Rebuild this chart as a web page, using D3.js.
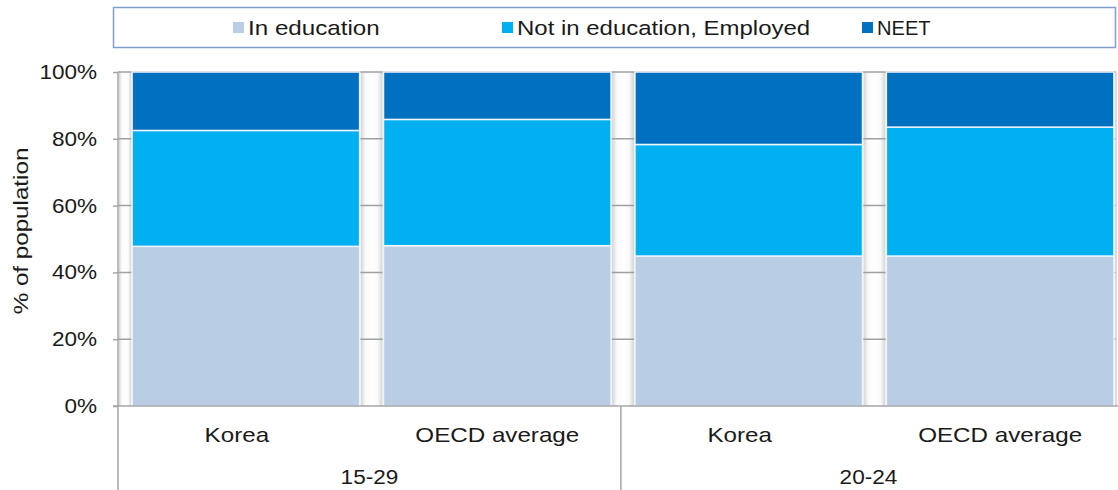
<!DOCTYPE html>
<html>
<head>
<meta charset="utf-8">
<script src="https://cdn.jsdelivr.net/npm/d3@7"></script>
<style>
  body { margin: 0; background: #fff; }
  svg text { font-family: "Liberation Sans", Arial, sans-serif; fill: #1a1a1a; }
</style>
</head>
<body>
<svg id="chart" width="1118" height="490"></svg>
<script>
// data
var groups = ["15-29", "20-24"];
var countries = ["Korea", "OECD average", "Korea", "OECD average"];
var groupOf = [0, 0, 1, 1];
var seriesNames = ["In education", "Not in education, Employed", "NEET"];
var inEducation = [47.8, 48.0, 44.9, 44.9];
var employed = [34.7, 37.8, 33.4, 38.6];
var neet = [17.5, 14.2, 21.7, 16.5];
var yTicks = [0, 20, 40, 60, 80, 100];

var colors = ["#b9cde5", "#00b0f0", "#0070c0"];
var axisGray = "#a6a6a6";
var fontSize = 20.5;
var stretchX = 1.18;   // the original text renders wider than Liberation Sans

var svg = d3.select("#chart");
var plotLeft = 118, plotRight = 1116, plotTop = 72, plotBottom = 406;

// place a text at x,y, widened along its own baseline
function placeText(sel, fx, fy, extra, k) {
    sel.attr("transform", function(d, i) {
        return "translate(" + fx(d, i) + "," + fy(d, i) + ")" + (extra || "") + " scale(" + (k || stretchX) + ",1)";
    });
}

var idx = d3.range(countries.length);
var x = d3.scaleBand()
    .domain(idx)
    .range([plotLeft, 1128])
    .paddingInner(0.095)
    .paddingOuter(0.056);
var y = d3.scaleLinear().domain([0, 100]).range([plotBottom, plotTop]);

// gradient for the wall pieces visible between bars
var defs = svg.append("defs");
var grad = defs.append("linearGradient").attr("id", "wall")
    .attr("x1", "0%").attr("x2", "100%").attr("y1", "0%").attr("y2", "0%");
grad.append("stop").attr("offset", "0%").attr("stop-color", "#d4d4d4");
grad.append("stop").attr("offset", "22%").attr("stop-color", "#fafafa");
grad.append("stop").attr("offset", "50%").attr("stop-color", "#ffffff");
grad.append("stop").attr("offset", "78%").attr("stop-color", "#fafafa");
grad.append("stop").attr("offset", "100%").attr("stop-color", "#d4d4d4");

// wall strips: before first bar and in the gaps
var strips = [];
var prevEnd = plotLeft;
idx.forEach(function(i) {
    strips.push([prevEnd + 1, x(i) - 1]);
    prevEnd = x(i) + x.bandwidth();
});
svg.append("g").selectAll("rect").data(strips).enter().append("rect")
    .attr("x", d => d[0])
    .attr("y", plotTop)
    .attr("width", d => Math.max(0, d[1] - d[0]))
    .attr("height", plotBottom - plotTop)
    .attr("fill", "url(#wall)");

// gridlines (only show in the gaps)
svg.append("g").selectAll("line").data(yTicks.filter(t => t > 0)).enter().append("line")
    .attr("x1", plotLeft).attr("x2", plotRight)
    .attr("y1", d => y(d)).attr("y2", d => y(d))
    .attr("stroke", "#a0a0a0").attr("stroke-width", 1.5);

// stacked bars
var rows = idx.map(i => ({i: i, a: inEducation[i], b: employed[i], c: neet[i]}));
var stack = d3.stack().keys(["a", "b", "c"]);
var layers = stack(rows);
svg.append("g").selectAll("g").data(layers).enter().append("g")
    .attr("fill", (d, k) => colors[k])
    .selectAll("rect").data(d => d).enter().append("rect")
    .attr("x", d => x(d.data.i))
    .attr("width", x.bandwidth())
    .attr("y", d => y(d[1]))
    .attr("height", d => y(d[0]) - y(d[1]))
    .attr("stroke", "#eef4fb")
    .attr("stroke-width", 1.5);

// right edge of wall
svg.append("line")
    .attr("x1", plotRight).attr("x2", plotRight)
    .attr("y1", plotTop).attr("y2", plotBottom)
    .attr("stroke", "#d0d0d0").attr("stroke-width", 1.5);

// y axis
var tickStretch = 1.1;
var yAxis = d3.axisLeft(y).tickValues(yTicks).tickFormat(d => d + "%").tickSize(5).tickPadding(14);
var ya = svg.append("g").attr("transform", "translate(" + plotLeft + ",0)").call(yAxis);
ya.select(".domain").remove();
ya.selectAll(".tick line").attr("stroke", axisGray).attr("stroke-width", 1.5);
ya.selectAll(".tick text").attr("font-size", fontSize).attr("fill", "#1a1a1a")
    .attr("font-family", "'Liberation Sans', Arial, sans-serif")
    .attr("transform", "scale(" + tickStretch + ",1)");
svg.append("line")
    .attr("x1", plotLeft).attr("x2", plotLeft)
    .attr("y1", plotTop).attr("y2", 490)
    .attr("stroke", axisGray).attr("stroke-width", 1.5);

// baseline
svg.append("line")
    .attr("x1", plotLeft - 5).attr("x2", 1118)
    .attr("y1", plotBottom).attr("y2", plotBottom)
    .attr("stroke", axisGray).attr("stroke-width", 1.5);

// group separators
var groupBounds = groups.map(function(g, gi) {
    var members = idx.filter(i => groupOf[i] == gi);
    var step = x.step();
    var start = x(members[0]) - (x(0) - plotLeft);
    var end = x(members[members.length - 1]) + step - (x(0) - plotLeft);
    return [start, Math.min(end, plotRight)];
});
svg.append("g").selectAll("line").data(groupBounds.slice(1)).enter().append("line")
    .attr("x1", d => d[0]).attr("x2", d => d[0])
    .attr("y1", plotBottom).attr("y2", 490)
    .attr("stroke", axisGray).attr("stroke-width", 1.5);

// category labels
svg.append("g").selectAll("text").data(idx).enter().append("text")
    .attr("text-anchor", "middle")
    .attr("font-size", fontSize)
    .text(i => countries[i])
    .call(placeText, i => x(i) + x.bandwidth() / 2 - (countries[i] == "Korea" ? 9 : 0), () => 442);

svg.append("g").selectAll("text").data(groupBounds).enter().append("text")
    .attr("text-anchor", "middle")
    .attr("font-size", fontSize)
    .text((d, gi) => groups[gi])
    .call(placeText, d => (d[0] + d[1]) / 2, () => 484, "", 1.1);

// axis title
svg.append("text")
    .attr("text-anchor", "middle")
    .attr("font-size", fontSize)
    .text("% of population")
    .call(placeText, () => 28, () => (plotTop + plotBottom) / 2 - 8, " rotate(-90)");

// legend
svg.append("rect")
    .attr("x", 113.5).attr("y", 7.5)
    .attr("width", 1002).attr("height", 40)
    .attr("fill", "#fff")
    .attr("stroke", "#7f9fcf").attr("stroke-width", 1.5);
var legendX = [233, 502, 862];
var legendStretch = [1.18, 1.17, 0.98];
var lg = svg.append("g").selectAll("g").data(seriesNames).enter().append("g")
    .attr("transform", (d, k) => "translate(" + legendX[k] + ",0)");
lg.append("rect")
    .attr("x", 0).attr("y", 22).attr("width", 11).attr("height", 11)
    .attr("fill", (d, k) => colors[k]);
lg.append("text")
    .attr("font-size", fontSize)
    .text(d => d)
    .each(function(d, k) {
        d3.select(this).call(placeText, () => 15, () => 35, "", legendStretch[k]);
    });
</script>
</body>
</html>
